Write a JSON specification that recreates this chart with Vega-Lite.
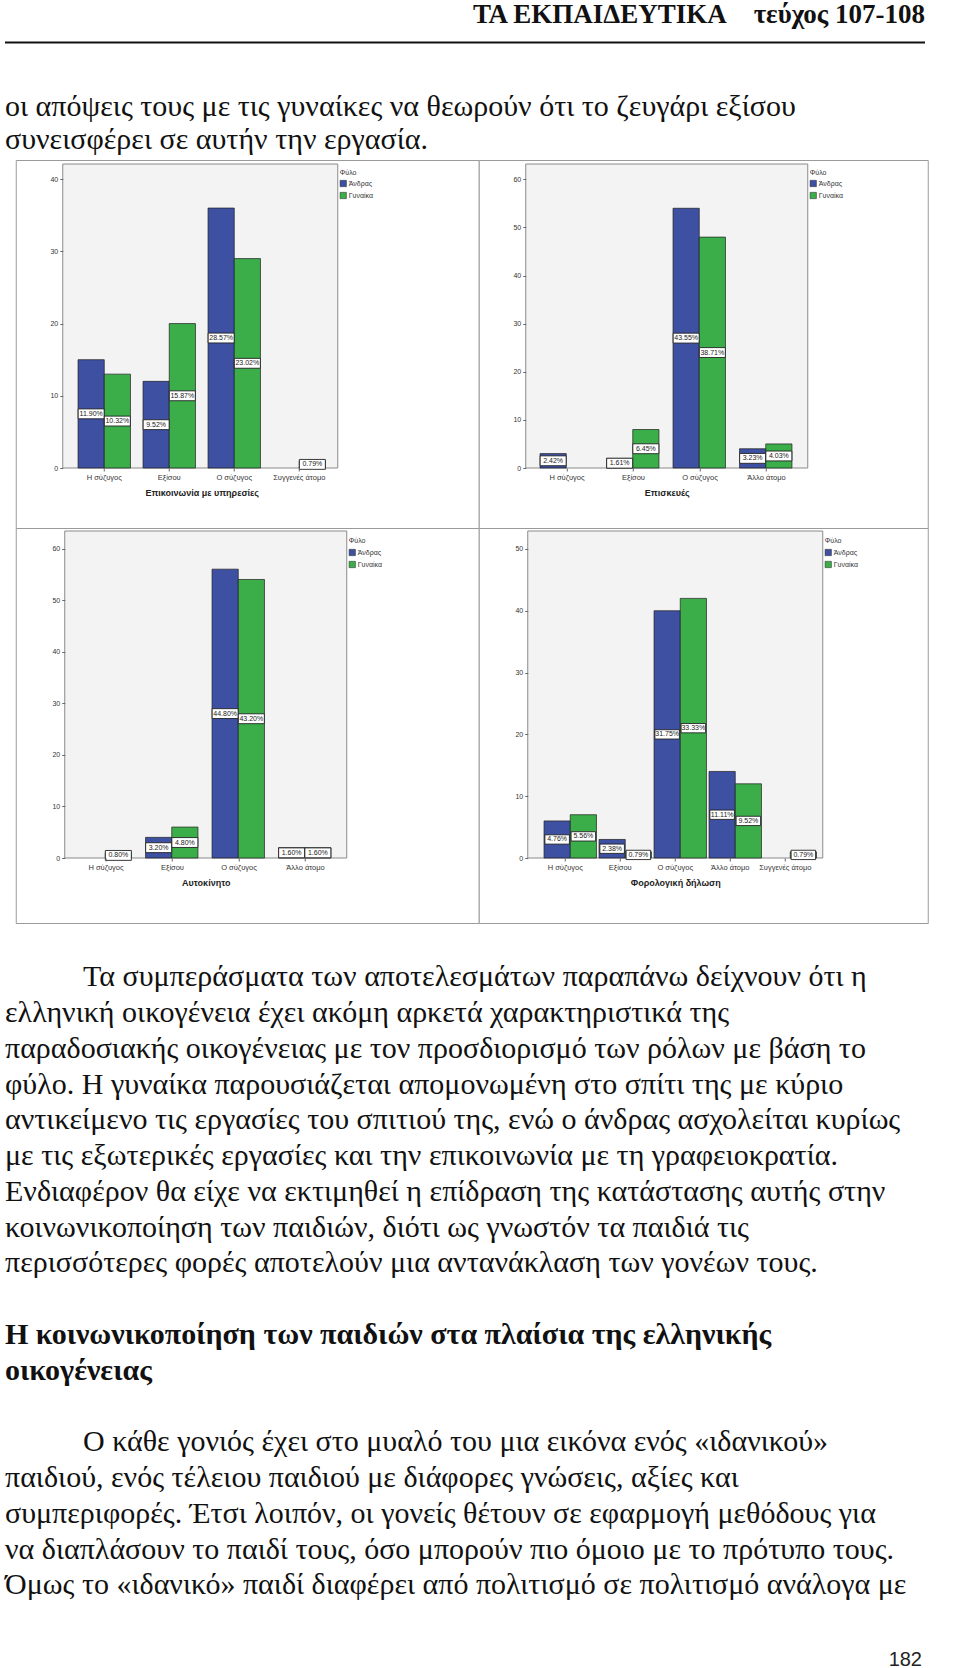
{
  "$schema": "https://vega.github.io/schema/vega-lite/v6.json",
  "padding": 0,
  "background": "white",
  "spacing": 0,
  "center": true,
  "config": {"view": {"stroke": null}, "font": "Liberation Sans"},
  "datasets": {
    "top": [
      {"block": "header", "text": "ΤΑ ΕΚΠΑΙΔΕΥΤΙΚΑ\u00a0\u00a0\u00a0\u00a0τεύχος 107-108"},
      {"block": "para", "line": 0, "text": "οι απόψεις τους με τις γυναίκες να θεωρούν ότι το ζευγάρι εξίσου"},
      {"block": "para", "line": 1, "text": "συνεισφέρει σε αυτήν την εργασία."}
    ],
    "bottom": [
      {"block": "lead", "line": 0, "text": "Τα συμπεράσματα των αποτελεσμάτων παραπάνω δείχνουν ότι η"},
      {"block": "para", "line": 1, "text": "ελληνική οικογένεια έχει ακόμη αρκετά χαρακτηριστικά της"},
      {"block": "para", "line": 2, "text": "παραδοσιακής οικογένειας με τον προσδιορισμό των ρόλων με βάση το"},
      {"block": "para", "line": 3, "text": "φύλο. Η γυναίκα παρουσιάζεται απομονωμένη στο σπίτι της με κύριο"},
      {"block": "para", "line": 4, "text": "αντικείμενο τις εργασίες του σπιτιού της, ενώ ο άνδρας ασχολείται κυρίως"},
      {"block": "para", "line": 5, "text": "με τις εξωτερικές εργασίες και την επικοινωνία με τη γραφειοκρατία."},
      {"block": "para", "line": 6, "text": "Ενδιαφέρον θα είχε να εκτιμηθεί η επίδραση της κατάστασης αυτής στην"},
      {"block": "para", "line": 7, "text": "κοινωνικοποίηση των παιδιών, διότι ως γνωστόν τα παιδιά τις"},
      {"block": "para", "line": 8, "text": "περισσότερες φορές αποτελούν μια αντανάκλαση των γονέων τους."},
      {"block": "head", "line": 10, "text": "Η κοινωνικοποίηση των παιδιών στα πλαίσια της ελληνικής"},
      {"block": "head", "line": 11, "text": "οικογένειας"},
      {"block": "lead", "line": 13, "text": "Ο κάθε γονιός έχει στο μυαλό του μια εικόνα ενός «ιδανικού»"},
      {"block": "para", "line": 14, "text": "παιδιού, ενός τέλειου παιδιού με διάφορες γνώσεις, αξίες και"},
      {"block": "para", "line": 15, "text": "συμπεριφορές. Έτσι λοιπόν, οι γονείς θέτουν σε εφαρμογή μεθόδους για"},
      {"block": "para", "line": 16, "text": "να διαπλάσουν το παιδί τους, όσο μπορούν πιο όμοιο με το πρότυπο τους."},
      {"block": "para", "line": 17, "text": "Όμως το «ιδανικό» παιδί διαφέρει από πολιτισμό σε πολιτισμό ανάλογα με"},
      {"block": "page", "line": 19, "text": "182"}
    ],
    "c1": [
      {"cat": "Η σύζυγος", "sex": "Άνδρας", "count": 15, "pct": 0.1190},
      {"cat": "Η σύζυγος", "sex": "Γυναίκα", "count": 13, "pct": 0.1032},
      {"cat": "Εξίσου", "sex": "Άνδρας", "count": 12, "pct": 0.0952},
      {"cat": "Εξίσου", "sex": "Γυναίκα", "count": 20, "pct": 0.1587},
      {"cat": "Ο σύζυγος", "sex": "Άνδρας", "count": 36, "pct": 0.2857},
      {"cat": "Ο σύζυγος", "sex": "Γυναίκα", "count": 29, "pct": 0.2302},
      {"cat": "Συγγενές άτομο", "sex": "Γυναίκα", "count": 1, "pct": 0.0079}
    ],
    "c2": [
      {"cat": "Η σύζυγος", "sex": "Άνδρας", "count": 3, "pct": 0.0242},
      {"cat": "Εξίσου", "sex": "Άνδρας", "count": 2, "pct": 0.0161},
      {"cat": "Εξίσου", "sex": "Γυναίκα", "count": 8, "pct": 0.0645},
      {"cat": "Ο σύζυγος", "sex": "Άνδρας", "count": 54, "pct": 0.4355},
      {"cat": "Ο σύζυγος", "sex": "Γυναίκα", "count": 48, "pct": 0.3871},
      {"cat": "Άλλο άτομο", "sex": "Άνδρας", "count": 4, "pct": 0.0323},
      {"cat": "Άλλο άτομο", "sex": "Γυναίκα", "count": 5, "pct": 0.0403}
    ],
    "c3": [
      {"cat": "Η σύζυγος", "sex": "Γυναίκα", "count": 1, "pct": 0.0080},
      {"cat": "Εξίσου", "sex": "Άνδρας", "count": 4, "pct": 0.0320},
      {"cat": "Εξίσου", "sex": "Γυναίκα", "count": 6, "pct": 0.0480},
      {"cat": "Ο σύζυγος", "sex": "Άνδρας", "count": 56, "pct": 0.4480},
      {"cat": "Ο σύζυγος", "sex": "Γυναίκα", "count": 54, "pct": 0.4320},
      {"cat": "Άλλο άτομο", "sex": "Άνδρας", "count": 2, "pct": 0.0160},
      {"cat": "Άλλο άτομο", "sex": "Γυναίκα", "count": 2, "pct": 0.0160}
    ],
    "c4": [
      {"cat": "Η σύζυγος", "sex": "Άνδρας", "count": 6, "pct": 0.0476},
      {"cat": "Η σύζυγος", "sex": "Γυναίκα", "count": 7, "pct": 0.0556},
      {"cat": "Εξίσου", "sex": "Άνδρας", "count": 3, "pct": 0.0238},
      {"cat": "Εξίσου", "sex": "Γυναίκα", "count": 1, "pct": 0.0079},
      {"cat": "Ο σύζυγος", "sex": "Άνδρας", "count": 40, "pct": 0.3175},
      {"cat": "Ο σύζυγος", "sex": "Γυναίκα", "count": 42, "pct": 0.3333},
      {"cat": "Άλλο άτομο", "sex": "Άνδρας", "count": 14, "pct": 0.1111},
      {"cat": "Άλλο άτομο", "sex": "Γυναίκα", "count": 12, "pct": 0.0952},
      {"cat": "Συγγενές άτομο", "sex": "Γυναίκα", "count": 1, "pct": 0.0079}
    ]
  },
  "vconcat": [
    {
      "width": 944,
      "height": 159,
      "data": {"name": "top"},
      "layer": [
        {
          "transform": [{"filter": "datum.block == 'header'"}],
          "mark": {"type": "text", "align": "right", "baseline": "alphabetic", "font": "Liberation Serif", "fontWeight": "bold", "fontSize": 27, "color": "#111"},
          "encoding": {
            "x": {"datum": 1, "type": "quantitative", "scale": {"domain": [0, 1], "range": [5, 925]}, "axis": null},
            "y": {"datum": -2.803, "type": "quantitative", "scale": {"domain": [-3.5, 1.318], "reverse": true, "nice": false, "zero": false}, "axis": null},
            "text": {"field": "text"}
          }
        },
        {
          "transform": [{"filter": "datum.block == 'header'"}],
          "mark": {"type": "rule", "strokeWidth": 2, "color": "#111"},
          "encoding": {
            "x": {"datum": 0, "type": "quantitative"},
            "x2": {"datum": 1},
            "y": {"datum": -2.212, "type": "quantitative"}
          }
        },
        {
          "transform": [{"filter": "datum.block == 'para'"}],
          "mark": {"type": "text", "align": "left", "baseline": "alphabetic", "font": "Liberation Serif", "fontSize": 30, "color": "#111"},
          "encoding": {
            "x": {"datum": 0, "type": "quantitative"},
            "y": {"field": "line", "type": "quantitative"},
            "text": {"field": "text"}
          }
        }
      ]
    },
    {
      "columns": 2,
      "spacing": 0,
      "bounds": "flush",
      "resolve": {"scale": {"color": "independent"}, "legend": {"color": "independent"}},
      "concat": [
        {
          "width": 463, "height": 368,
          "view": {"fill": "white", "stroke": "#9a9a9a", "strokeWidth": 1},
          "data": {"name": "c1"},
          "resolve": {"scale": {"x": "independent", "y": "independent"}},
          "layer": [
            {
              "data": {"values": [{}]},
              "mark": {"type": "rect", "fill": "#f3f3f3", "stroke": "#8a8a8a", "strokeWidth": 1},
              "encoding": {
                "x": {"datum": 0, "type": "quantitative", "scale": {"domain": [0, 1], "range": [47, 322]}, "axis": null},
                "x2": {"datum": 1},
                "y": {"datum": 0, "type": "quantitative", "scale": {"domain": [0, 1], "range": [308, 4]}, "axis": null},
                "y2": {"datum": 1}
              }
            },
            {
              "mark": {"type": "bar", "stroke": "#1e1e1e", "strokeWidth": 0.7},
              "encoding": {
                "x": {"field": "cat", "type": "nominal", "scale": {"domain": ["Η σύζυγος", "Εξίσου", "Ο σύζυγος", "Συγγενές άτομο"], "range": [56, 316], "paddingInner": 0, "paddingOuter": 0},
                  "axis": {"orient": "bottom", "offset": -60, "domain": false, "tickSize": 3, "tickColor": "#666", "labelAngle": 0, "labelFontSize": 7.5, "labelColor": "#333", "labelPadding": 2, "title": "Επικοινωνία με υπηρεσίες", "titleFontSize": 9, "titleFontWeight": "bold", "titleColor": "#222", "titlePadding": 8, "zindex": 1}},
                "xOffset": {"field": "sex", "type": "nominal", "scale": {"domain": ["Άνδρας", "Γυναίκα"], "paddingInner": 0, "paddingOuter": 0.24}},
                "y": {"field": "count", "type": "quantitative", "scale": {"domain": [0, 42.1], "range": [308, 4], "nice": false},
                  "axis": {"orient": "left", "offset": -47, "values": [0, 10, 20, 30, 40], "domain": false, "grid": false, "tickSize": 3, "tickColor": "#666", "labelFontSize": 7, "labelColor": "#333", "labelPadding": 2, "title": null, "zindex": 1}},
                "color": {"field": "sex", "type": "nominal", "scale": {"domain": ["Άνδρας", "Γυναίκα"], "range": ["#3e50a2", "#3bae4a"]},
                  "legend": {"orient": "none", "legendX": 324, "legendY": 9, "title": "Φύλο", "titleFontSize": 7, "titleFontWeight": "normal", "titleColor": "#333", "titlePadding": 4, "labelFontSize": 7, "labelColor": "#333", "symbolType": "square", "symbolSize": 40, "symbolStrokeColor": "#222", "symbolStrokeWidth": 0.5, "rowPadding": 3, "labelOffset": 2}}
              }
            },
            {
              "encoding": {
                "x": {"field": "cat", "type": "nominal", "scale": {"domain": ["Η σύζυγος", "Εξίσου", "Ο σύζυγος", "Συγγενές άτομο"], "range": [56, 316], "paddingInner": 0, "paddingOuter": 0}, "axis": null},
                "xOffset": {"field": "sex", "type": "nominal", "scale": {"domain": ["Άνδρας", "Γυναίκα"], "paddingInner": 0, "paddingOuter": 0.24}},
                "y": {"field": "count", "type": "quantitative", "scale": {"domain": [0, 84.2], "range": [308, 4], "nice": false}, "axis": null}
              },
              "layer": [
                {"mark": {"type": "point", "shape": "M-1,-0.38H1V0.38H-1Z", "size": 676, "filled": true, "fill": "white", "stroke": "#222", "strokeWidth": 0.9, "opacity": 1}},
                {"mark": {"type": "text", "fontSize": 7, "color": "#222", "baseline": "middle", "align": "center"}, "encoding": {"text": {"field": "pct", "type": "quantitative", "format": ".2%"}}}
              ]
            }
          ]
        },
        {
          "width": 449, "height": 368,
          "view": {"fill": "white", "stroke": "#9a9a9a", "strokeWidth": 1},
          "data": {"name": "c2"},
          "resolve": {"scale": {"x": "independent", "y": "independent"}},
          "layer": [
            {
              "data": {"values": [{}]},
              "mark": {"type": "rect", "fill": "#f3f3f3", "stroke": "#8a8a8a", "strokeWidth": 1},
              "encoding": {
                "x": {"datum": 0, "type": "quantitative", "scale": {"domain": [0, 1], "range": [47, 329]}, "axis": null},
                "x2": {"datum": 1},
                "y": {"datum": 0, "type": "quantitative", "scale": {"domain": [0, 1], "range": [308, 4]}, "axis": null},
                "y2": {"datum": 1}
              }
            },
            {
              "mark": {"type": "bar", "stroke": "#1e1e1e", "strokeWidth": 0.7},
              "encoding": {
                "x": {"field": "cat", "type": "nominal", "scale": {"domain": ["Η σύζυγος", "Εξίσου", "Ο σύζυγος", "Άλλο άτομο"], "range": [55, 321], "paddingInner": 0, "paddingOuter": 0},
                  "axis": {"orient": "bottom", "offset": -60, "domain": false, "tickSize": 3, "tickColor": "#666", "labelAngle": 0, "labelFontSize": 7.5, "labelColor": "#333", "labelPadding": 2, "title": "Επισκευές", "titleFontSize": 9, "titleFontWeight": "bold", "titleColor": "#222", "titlePadding": 8, "zindex": 1}},
                "xOffset": {"field": "sex", "type": "nominal", "scale": {"domain": ["Άνδρας", "Γυναίκα"], "paddingInner": 0, "paddingOuter": 0.24}},
                "y": {"field": "count", "type": "quantitative", "scale": {"domain": [0, 63.2], "range": [308, 4], "nice": false},
                  "axis": {"orient": "left", "offset": -47, "values": [0, 10, 20, 30, 40, 50, 60], "domain": false, "grid": false, "tickSize": 3, "tickColor": "#666", "labelFontSize": 7, "labelColor": "#333", "labelPadding": 2, "title": null, "zindex": 1}},
                "color": {"field": "sex", "type": "nominal", "scale": {"domain": ["Άνδρας", "Γυναίκα"], "range": ["#3e50a2", "#3bae4a"]},
                  "legend": {"orient": "none", "legendX": 331, "legendY": 9, "title": "Φύλο", "titleFontSize": 7, "titleFontWeight": "normal", "titleColor": "#333", "titlePadding": 4, "labelFontSize": 7, "labelColor": "#333", "symbolType": "square", "symbolSize": 40, "symbolStrokeColor": "#222", "symbolStrokeWidth": 0.5, "rowPadding": 3, "labelOffset": 2}}
              }
            },
            {
              "encoding": {
                "x": {"field": "cat", "type": "nominal", "scale": {"domain": ["Η σύζυγος", "Εξίσου", "Ο σύζυγος", "Άλλο άτομο"], "range": [55, 321], "paddingInner": 0, "paddingOuter": 0}, "axis": null},
                "xOffset": {"field": "sex", "type": "nominal", "scale": {"domain": ["Άνδρας", "Γυναίκα"], "paddingInner": 0, "paddingOuter": 0.24}},
                "y": {"field": "count", "type": "quantitative", "scale": {"domain": [0, 126.4], "range": [308, 4], "nice": false}, "axis": null}
              },
              "layer": [
                {"mark": {"type": "point", "shape": "M-1,-0.38H1V0.38H-1Z", "size": 676, "filled": true, "fill": "white", "stroke": "#222", "strokeWidth": 0.9, "opacity": 1}},
                {"mark": {"type": "text", "fontSize": 7, "color": "#222", "baseline": "middle", "align": "center"}, "encoding": {"text": {"field": "pct", "type": "quantitative", "format": ".2%"}}}
              ]
            }
          ]
        },
        {
          "width": 463, "height": 395,
          "view": {"fill": "white", "stroke": "#9a9a9a", "strokeWidth": 1},
          "data": {"name": "c3"},
          "resolve": {"scale": {"x": "independent", "y": "independent"}},
          "layer": [
            {
              "data": {"values": [{}]},
              "mark": {"type": "rect", "fill": "#f3f3f3", "stroke": "#8a8a8a", "strokeWidth": 1},
              "encoding": {
                "x": {"datum": 0, "type": "quantitative", "scale": {"domain": [0, 1], "range": [49, 331]}, "axis": null},
                "x2": {"datum": 1},
                "y": {"datum": 0, "type": "quantitative", "scale": {"domain": [0, 1], "range": [330, 3]}, "axis": null},
                "y2": {"datum": 1}
              }
            },
            {
              "mark": {"type": "bar", "stroke": "#1e1e1e", "strokeWidth": 0.7},
              "encoding": {
                "x": {"field": "cat", "type": "nominal", "scale": {"domain": ["Η σύζυγος", "Εξίσου", "Ο σύζυγος", "Άλλο άτομο"], "range": [57, 323], "paddingInner": 0, "paddingOuter": 0},
                  "axis": {"orient": "bottom", "offset": -65, "domain": false, "tickSize": 3, "tickColor": "#666", "labelAngle": 0, "labelFontSize": 7.5, "labelColor": "#333", "labelPadding": 2, "title": "Αυτοκίνητο", "titleFontSize": 9, "titleFontWeight": "bold", "titleColor": "#222", "titlePadding": 8, "zindex": 1}},
                "xOffset": {"field": "sex", "type": "nominal", "scale": {"domain": ["Άνδρας", "Γυναίκα"], "paddingInner": 0, "paddingOuter": 0.24}},
                "y": {"field": "count", "type": "quantitative", "scale": {"domain": [0, 63.4], "range": [330, 3], "nice": false},
                  "axis": {"orient": "left", "offset": -49, "values": [0, 10, 20, 30, 40, 50, 60], "domain": false, "grid": false, "tickSize": 3, "tickColor": "#666", "labelFontSize": 7, "labelColor": "#333", "labelPadding": 2, "title": null, "zindex": 1}},
                "color": {"field": "sex", "type": "nominal", "scale": {"domain": ["Άνδρας", "Γυναίκα"], "range": ["#3e50a2", "#3bae4a"]},
                  "legend": {"orient": "none", "legendX": 333, "legendY": 9, "title": "Φύλο", "titleFontSize": 7, "titleFontWeight": "normal", "titleColor": "#333", "titlePadding": 5, "labelFontSize": 7, "labelColor": "#333", "symbolType": "square", "symbolSize": 40, "symbolStrokeColor": "#222", "symbolStrokeWidth": 0.5, "rowPadding": 3, "labelOffset": 2}}
              }
            },
            {
              "encoding": {
                "x": {"field": "cat", "type": "nominal", "scale": {"domain": ["Η σύζυγος", "Εξίσου", "Ο σύζυγος", "Άλλο άτομο"], "range": [57, 323], "paddingInner": 0, "paddingOuter": 0}, "axis": null},
                "xOffset": {"field": "sex", "type": "nominal", "scale": {"domain": ["Άνδρας", "Γυναίκα"], "paddingInner": 0, "paddingOuter": 0.24}},
                "y": {"field": "count", "type": "quantitative", "scale": {"domain": [0, 126.8], "range": [330, 3], "nice": false}, "axis": null}
              },
              "layer": [
                {"mark": {"type": "point", "shape": "M-1,-0.38H1V0.38H-1Z", "size": 676, "filled": true, "fill": "white", "stroke": "#222", "strokeWidth": 0.9, "opacity": 1}},
                {"mark": {"type": "text", "fontSize": 7, "color": "#222", "baseline": "middle", "align": "center"}, "encoding": {"text": {"field": "pct", "type": "quantitative", "format": ".2%"}}}
              ]
            }
          ]
        },
        {
          "width": 449, "height": 395,
          "view": {"fill": "white", "stroke": "#9a9a9a", "strokeWidth": 1},
          "data": {"name": "c4"},
          "resolve": {"scale": {"x": "independent", "y": "independent"}},
          "layer": [
            {
              "data": {"values": [{}]},
              "mark": {"type": "rect", "fill": "#f3f3f3", "stroke": "#8a8a8a", "strokeWidth": 1},
              "encoding": {
                "x": {"datum": 0, "type": "quantitative", "scale": {"domain": [0, 1], "range": [49, 344]}, "axis": null},
                "x2": {"datum": 1},
                "y": {"datum": 0, "type": "quantitative", "scale": {"domain": [0, 1], "range": [330, 3]}, "axis": null},
                "y2": {"datum": 1}
              }
            },
            {
              "mark": {"type": "bar", "stroke": "#1e1e1e", "strokeWidth": 0.7},
              "encoding": {
                "x": {"field": "cat", "type": "nominal", "scale": {"domain": ["Η σύζυγος", "Εξίσου", "Ο σύζυγος", "Άλλο άτομο", "Συγγενές άτομο"], "range": [59, 334], "paddingInner": 0, "paddingOuter": 0},
                  "axis": {"orient": "bottom", "offset": -65, "domain": false, "tickSize": 3, "tickColor": "#666", "labelAngle": 0, "labelFontSize": 7.5, "labelColor": "#333", "labelPadding": 2, "title": "Φορολογική δήλωση", "titleFontSize": 9, "titleFontWeight": "bold", "titleColor": "#222", "titlePadding": 8, "zindex": 1}},
                "xOffset": {"field": "sex", "type": "nominal", "scale": {"domain": ["Άνδρας", "Γυναίκα"], "paddingInner": 0, "paddingOuter": 0.18}},
                "y": {"field": "count", "type": "quantitative", "scale": {"domain": [0, 52.9], "range": [330, 3], "nice": false},
                  "axis": {"orient": "left", "offset": -49, "values": [0, 10, 20, 30, 40, 50], "domain": false, "grid": false, "tickSize": 3, "tickColor": "#666", "labelFontSize": 7, "labelColor": "#333", "labelPadding": 2, "title": null, "zindex": 1}},
                "color": {"field": "sex", "type": "nominal", "scale": {"domain": ["Άνδρας", "Γυναίκα"], "range": ["#3e50a2", "#3bae4a"]},
                  "legend": {"orient": "none", "legendX": 346, "legendY": 9, "title": "Φύλο", "titleFontSize": 7, "titleFontWeight": "normal", "titleColor": "#333", "titlePadding": 5, "labelFontSize": 7, "labelColor": "#333", "symbolType": "square", "symbolSize": 40, "symbolStrokeColor": "#222", "symbolStrokeWidth": 0.5, "rowPadding": 3, "labelOffset": 2}}
              }
            },
            {
              "encoding": {
                "x": {"field": "cat", "type": "nominal", "scale": {"domain": ["Η σύζυγος", "Εξίσου", "Ο σύζυγος", "Άλλο άτομο", "Συγγενές άτομο"], "range": [59, 334], "paddingInner": 0, "paddingOuter": 0}, "axis": null},
                "xOffset": {"field": "sex", "type": "nominal", "scale": {"domain": ["Άνδρας", "Γυναίκα"], "paddingInner": 0, "paddingOuter": 0.18}},
                "y": {"field": "count", "type": "quantitative", "scale": {"domain": [0, 105.8], "range": [330, 3], "nice": false}, "axis": null}
              },
              "layer": [
                {"mark": {"type": "point", "shape": "M-1,-0.38H1V0.38H-1Z", "size": 600, "filled": true, "fill": "white", "stroke": "#222", "strokeWidth": 0.9, "opacity": 1}},
                {"mark": {"type": "text", "fontSize": 7, "color": "#222", "baseline": "middle", "align": "center"}, "encoding": {"text": {"field": "pct", "type": "quantitative", "format": ".2%"}}}
              ]
            }
          ]
        }
      ]
    },
    {
      "width": 944,
      "height": 746,
      "data": {"name": "bottom"},
      "layer": [
        {
          "transform": [{"filter": "datum.block == 'para'"}],
          "mark": {"type": "text", "align": "left", "baseline": "alphabetic", "font": "Liberation Serif", "fontSize": 30, "color": "#111"},
          "encoding": {
            "x": {"datum": 0, "type": "quantitative", "scale": {"domain": [0, 1], "range": [5, 925]}, "axis": null},
            "y": {"field": "line", "type": "quantitative", "scale": {"domain": [-1.745, 19.116], "reverse": true, "nice": false, "zero": false}, "axis": null},
            "text": {"field": "text"}
          }
        },
        {
          "transform": [{"filter": "datum.block == 'lead'"}],
          "mark": {"type": "text", "align": "left", "baseline": "alphabetic", "font": "Liberation Serif", "fontSize": 30, "color": "#111", "dx": 78},
          "encoding": {
            "x": {"datum": 0, "type": "quantitative"},
            "y": {"field": "line", "type": "quantitative"},
            "text": {"field": "text"}
          }
        },
        {
          "transform": [{"filter": "datum.block == 'head'"}],
          "mark": {"type": "text", "align": "left", "baseline": "alphabetic", "font": "Liberation Serif", "fontWeight": "bold", "fontSize": 30, "color": "#111"},
          "encoding": {
            "x": {"datum": 0, "type": "quantitative"},
            "y": {"field": "line", "type": "quantitative"},
            "text": {"field": "text"}
          }
        },
        {
          "transform": [{"filter": "datum.block == 'page'"}],
          "mark": {"type": "text", "align": "right", "baseline": "alphabetic", "font": "Liberation Sans", "fontSize": 20, "color": "#222", "dx": -3},
          "encoding": {
            "x": {"datum": 1, "type": "quantitative"},
            "y": {"field": "line", "type": "quantitative"},
            "text": {"field": "text"}
          }
        }
      ]
    }
  ]
}
